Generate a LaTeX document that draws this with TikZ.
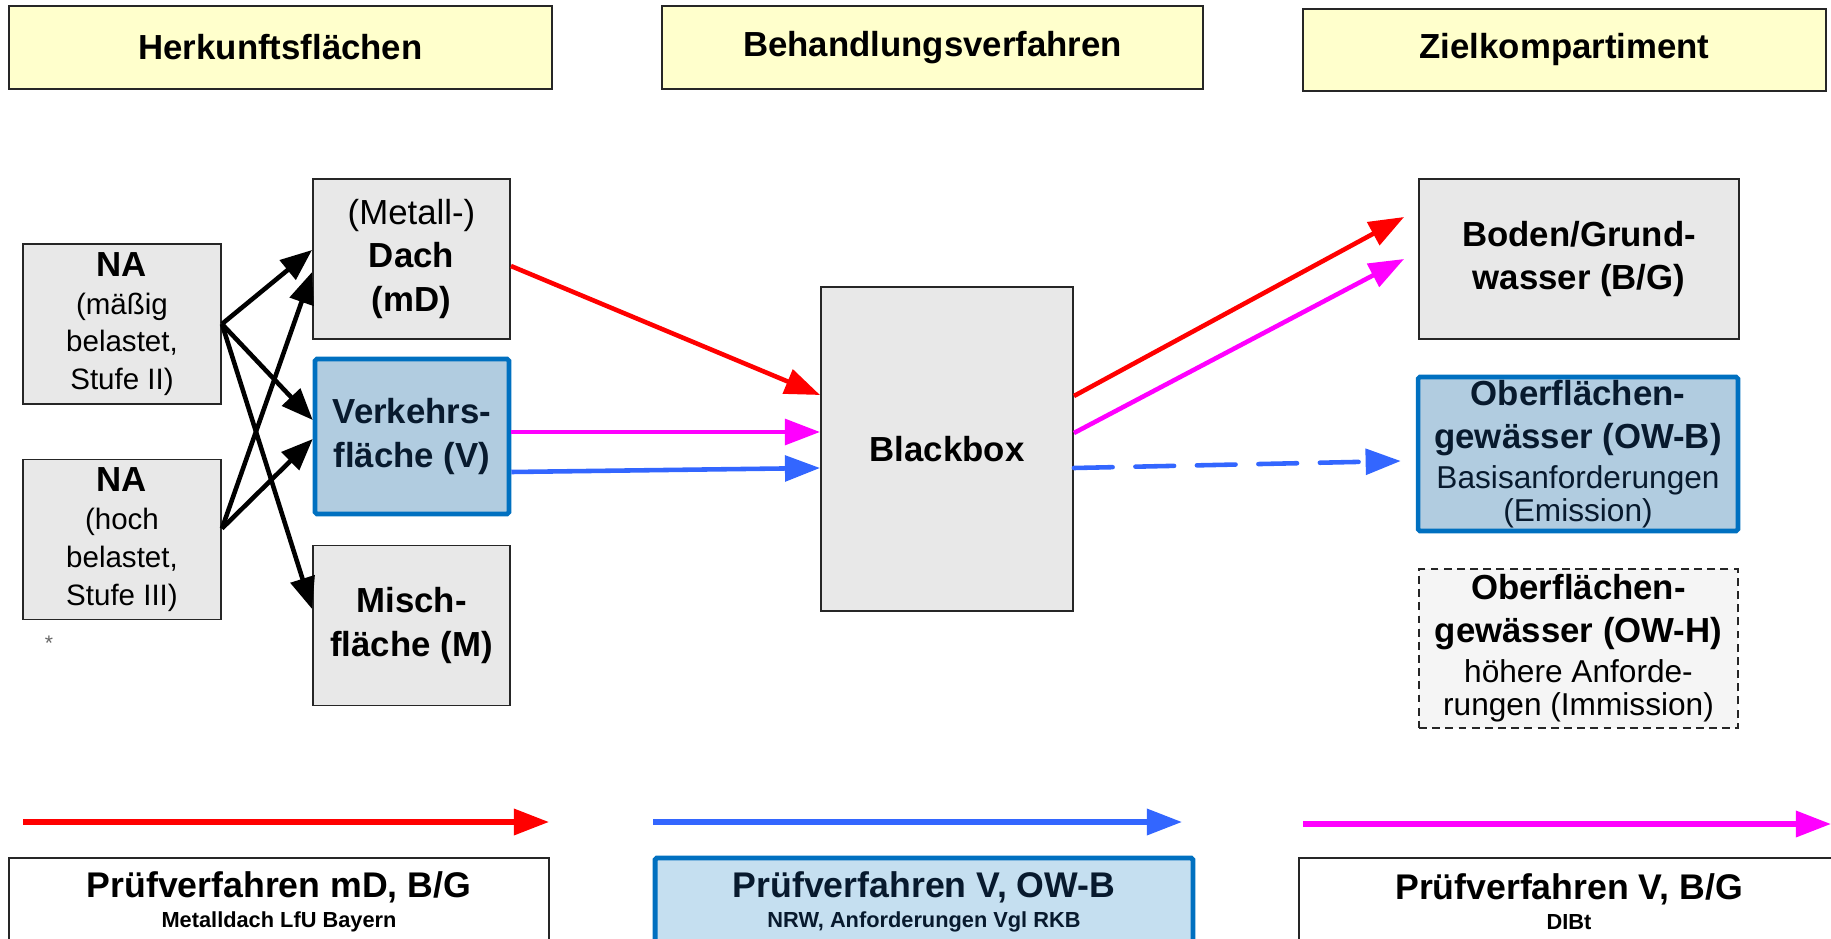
\documentclass[tikz,border=0pt]{standalone}
\usepackage{fontspec}
\setmainfont{Liberation Sans}
\definecolor{hdyellow}{RGB}{255,255,204}
\definecolor{boxgray}{RGB}{232,232,232}
\definecolor{vfill}{RGB}{177,204,224}
\definecolor{vborder}{RGB}{0,112,192}
\definecolor{vtext}{RGB}{8,26,46}
\definecolor{pfill}{RGB}{197,223,240}
\definecolor{arrred}{RGB}{255,0,0}
\definecolor{arrmag}{RGB}{255,0,255}
\definecolor{arrblue}{RGB}{51,102,255}
\usetikzlibrary{arrows.meta,calc}
\newcommand{\fntbig}{\fontsize{19.8}{24.5}\selectfont}
\newcommand{\fntna}{\fontsize{16.8}{21.5}\selectfont}
\newcommand{\fntsub}{\fontsize{18}{19.5}\selectfont\mdseries}
\newcommand{\fntpb}{\fontsize{20.3}{24}\selectfont}
\newcommand{\fntpbsub}{\fontsize{12.4}{14}\selectfont}
\newcommand{\fntstar}{\fontsize{12}{14}\selectfont}

\begin{document}
\begin{tikzpicture}[x=0.02cm, y=-0.02cm,
  headbox/.style={draw=black!85, line width=1.4pt, fill=hdyellow, inner sep=0pt, font=\fntbig\bfseries},
  greybox/.style={draw=black!85, line width=1.1pt, fill=boxgray, inner sep=0pt, align=center, minimum width=3.94cm, minimum height=3.2cm, font=\fntbig\bfseries},
  bluebox/.style={draw=vborder, line width=2.6pt, fill=vfill, text=vtext, rounded corners=1pt, inner sep=0pt, align=center, minimum width=3.88cm, minimum height=3.1cm, font=\fntbig\bfseries},
  owhbox/.style={draw=black!85, line width=1.1pt, dash pattern=on 4.5pt off 3pt, fill=black!4, inner sep=0pt, align=center, minimum width=6.38cm, minimum height=3.18cm, font=\fntbig\bfseries},
  pbox/.style={draw=black!85, line width=1.1pt, fill=white, inner sep=0pt, align=center, minimum height=1.76cm, font=\fntpb\bfseries},
  blkarrow/.style={-{Triangle[length=18pt, width=14pt]}, line width=2.6pt, black},
  colarrow/.style={-{Triangle[length=20pt, width=14.5pt]}, line width=2.6pt}]
  \useasboundingbox (0,0) rectangle (1831,939);
  \clip (0,0) rectangle (1831,939);

  % column headers
  \node[headbox, minimum width=10.86cm, minimum height=1.66cm] (hd1) at (280.5,47.5) {Herkunftsflächen};
  \node[headbox, minimum width=10.82cm, minimum height=1.66cm] (hd2) at (932.5,47.5) {Behandlungsverfahren};
  \node[headbox, minimum width=10.46cm, minimum height=1.64cm] (hd3) at (1564.5,50) {Zielkompartiment};

  % Herkunftsflaechen
  \node[greybox, minimum width=3.96cm, font=\fntna] (na1) at (122,324) {{\fntbig\bfseries NA}\\(mäßig\\belastet,\\Stufe II)};
  \node[greybox, minimum width=3.96cm, font=\fntna] (na2) at (122,539.5) {{\fntbig\bfseries NA}\\(hoch\\belastet,\\Stufe III)};
  \node[text=black!60, font=\fntstar] (star) at (49,643) {*};
  \node[greybox] (dach) at (411.5,259) {{\mdseries (Metall-)}\\Dach\\(mD)};
  \node[bluebox] (verk) at (412,436.5) {Verkehrs-\\fläche (V)};
  \node[greybox] (misch) at (411.5,625.5) {Misch-\\fläche (M)};

  % Behandlung
  \node[greybox, minimum width=5.04cm, minimum height=6.48cm] (bb) at (947,449) {Blackbox};

  % Zielkompartiment
  \node[greybox, minimum width=6.4cm] (boden) at (1579,259) {Boden/Grund-\\wasser (B/G)};
  \node[bluebox, minimum width=6.4cm, minimum height=3.08cm] (owb) at (1578,454) {Oberflächen-\\gewässer (OW-B)\\[-1.8pt]{\fntsub Basisanforderungen}\\[-5.7pt]{\fntsub (Emission)}};
  \node[owhbox] (owh) at (1578.5,648.5) {Oberflächen-\\gewässer (OW-H)\\[-1.8pt]{\fntsub höhere Anforde-}\\[-5.7pt]{\fntsub rungen (Immission)}};

  \draw[blkarrow] (na1.east) -- ($(dach.west)+(0,-9)$);
  \draw[blkarrow] (na1.east) -- ($(verk.west)+(0,-16.5)$);
  \draw[blkarrow] (na1.east) -- ($(misch.west)+(0,-16.5)$);
  \draw[blkarrow] ($(na2.east)+(0,-11)$) -- ($(dach.west)+(0,13)$);
  \draw[blkarrow] ($(na2.east)+(0,-11)$) -- ($(verk.west)+(0,2.5)$);

  \draw[colarrow, arrred] ($(dach.east)+(0,7)$) -- ($(bb.west)+(0,-54)$);
  \draw[colarrow, arrmag] ($(verk.east)+(0,-4.5)$) -- ($(bb.west)+(0,-17)$);
  \draw[colarrow, arrblue] ($(verk.east)+(0,35.5)$) -- ($(bb.west)+(0,19)$);
  \draw[colarrow, arrred] ($(bb.east)+(0,-53)$) -- ($(boden.west)+(-14,-42)$);
  \draw[colarrow, arrmag] ($(bb.east)+(0,-16)$) -- ($(boden.west)+(-14,0)$);
  \draw[colarrow, arrblue, dash pattern=on 22pt off 13pt, line cap=round] ($(bb.east)+(0,19)$) -- ($(owb.west)+(-15,7)$);

  % Pruefverfahren
  \coordinate (r0) at (23,822);
  \coordinate (r1) at (549,822);
  \coordinate (b0) at (653,822);
  \coordinate (b1) at (1182,822);
  \coordinate (m0) at (1303,824);
  \coordinate (m1) at (1831,824);
  \draw[colarrow, arrred, line width=3pt] (r0) -- (r1);
  \draw[colarrow, arrblue, line width=3pt] (b0) -- (b1);
  \draw[colarrow, arrmag, line width=3pt] (m0) -- (m1);
  \node[pbox, minimum width=10.8cm] (pb1) at (279,902) {Prüfverfahren mD, B/G\\[-7pt]{\fntpbsub Metalldach LfU Bayern}};
  \node[pbox, draw=vborder, line width=2.8pt, fill=pfill, text=vtext, rounded corners=1pt, minimum width=10.76cm] (pb2) at (924,902) {Prüfverfahren V, OW-B\\[-7pt]{\fntpbsub NRW, Anforderungen Vgl RKB}};
  \node[pbox, minimum width=10.8cm] (pb3) at (1569,902) {Prüfverfahren V, B/G\\[-7pt]{\fntpbsub DIBt}};
\end{tikzpicture}
\end{document}
